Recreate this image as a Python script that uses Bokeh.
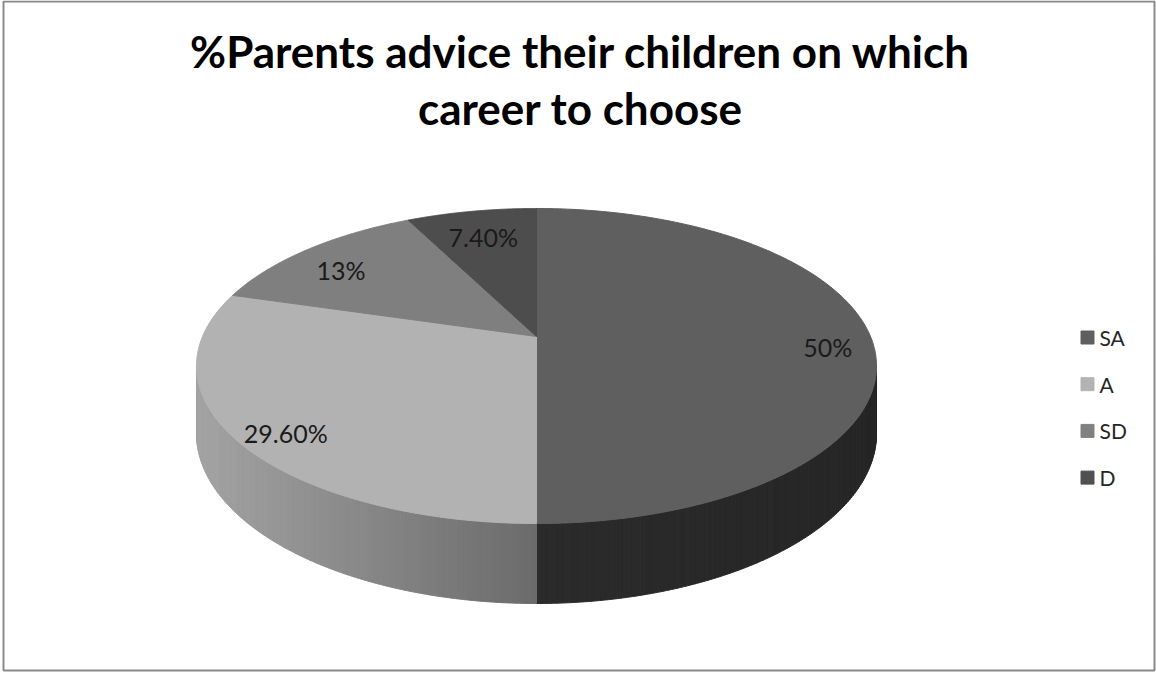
import numpy as np
from bokeh.plotting import figure
from bokeh.models import Range1d
from bokeh.core.properties import value
from bokeh.embed import file_html
from bokeh.resources import INLINE

# ---- data ----
title_lines = ["%Parents advice their children on which", "career to choose"]
categories = ["SA", "A", "SD", "D"]
values = [50, 29.6, 13, 7.4]
value_labels = ["50%", "29.60%", "13%", "7.40%"]

# ---- styles ----
top_colors = ["#5f5f5f", "#b2b2b2", "#7f7f7f", "#4d4d4d"]
side_start = ["#262626", "#6b6b6b", "#5a5a5a", "#3a3a3a"]   # colour at first visible angle (clockwise)
side_end = ["#2b2b2b", "#a3a3a3", "#8a8a8a", "#444444"]     # colour at last visible angle
legend_colors = ["#5f5f5f", "#b3b3b3", "#808080", "#505050"]

W, H = 1156, 673
CX, CY = 536, 336          # projected pie centre (apex)
AX, BY, PC = 334, 152, -0.1873   # horizontal / vertical scale, perspective factor
DEPTH = 65

FONT = "Lato"


def proj(psi, r=1.0):
    X = r * np.sin(psi)
    Y = -r * np.cos(psi)
    d = 1 + PC * Y
    return CX + AX * X / d, CY + BY * Y / d, DEPTH / d


def hex2rgb(h):
    h = h.lstrip("#")
    return np.array([int(h[i:i + 2], 16) for i in (0, 2, 4)], dtype=float)


def mix(c1, c2, t):
    c = hex2rgb(c1) * (1 - t) + hex2rgb(c2) * t
    return "#%02x%02x%02x" % tuple(int(round(v)) for v in c)


p = figure(width=W, height=H, x_range=Range1d(0, W), y_range=Range1d(H, 0),
           min_border=0, toolbar_location=None, output_backend="svg")
p.axis.visible = False
p.grid.visible = False
p.outline_line_color = None
p.background_fill_color = "white"
p.border_fill_color = "white"

# frame
p.quad(left=3, right=1154, top=1, bottom=670, fill_color=None,
       line_color="#8a8a8a", line_width=2)

total = float(sum(values))
cum = np.concatenate([[0.0], np.cumsum(values)]) / total * 2 * np.pi
psi_r = np.arccos(PC)             # right silhouette
psi_l = 2 * np.pi - psi_r         # left silhouette

# ---- side walls (with gradient strips) ----
sx_list, sy_list, scol = [], [], []
for i in range(len(values)):
    a0, a1 = max(cum[i], psi_r), min(cum[i + 1], psi_l)
    if a1 <= a0:
        continue
    n = max(2, int(np.degrees(a1 - a0) / 0.7))
    angs = np.linspace(a0, a1, n + 1)
    x0s, _, _ = proj(angs[0])
    x1s, _, _ = proj(angs[-1])
    for k in range(n):
        ps = np.linspace(angs[k], angs[k + 1], 4)
        x, y, d = proj(ps)
        xs = list(x) + list(x[::-1])
        ys = list(y) + list((y + d)[::-1])
        xm = proj((angs[k] + angs[k + 1]) / 2)[0]
        t = (xm - x0s) / (x1s - x0s) if x1s != x0s else 0
        col = mix(side_start[i], side_end[i], min(max(t, 0), 1))
        sx_list.append(xs)
        sy_list.append(ys)
        scol.append(col)
p.patches(sx_list, sy_list, fill_color=scol, line_color=scol, line_width=1)

# ---- top faces ----
tx, ty = [], []
for i in range(len(values)):
    angs = np.linspace(cum[i], cum[i + 1], 200)
    x, y, _ = proj(angs)
    tx.append([CX] + list(x))
    ty.append([CY] + list(y))
p.patches(tx, ty, fill_color=top_colors, line_color=top_colors, line_width=1)

# ---- data labels ----
mids = (cum[:-1] + cum[1:]) / 2
lx, ly, _ = proj(mids, 0.86)
p.text(x=list(lx + 4), y=list(ly + 10), text=value_labels, text_font=value(FONT),
       text_font_size="25px", text_color="#1a1a1a", text_align="center",
       text_baseline="middle")

# ---- title ----
p.text(x=[580, 580], y=[50, 107], text=title_lines, text_font=value(FONT),
       text_font_style="bold", text_font_size="44px", text_color="#000000",
       text_align="center", text_baseline="middle")

# ---- legend ----
ly0, lstep = 337, 46.7
leg_y = [ly0 + k * lstep for k in range(len(categories))]
p.scatter(x=[1087] * len(categories), y=leg_y, marker="square", size=13,
          fill_color=legend_colors, line_color=legend_colors)
p.text(x=[1099] * len(categories), y=leg_y, text=categories, text_font=value(FONT),
       text_font_size="21px", text_color="#262626", text_align="left",
       text_baseline="middle")

open("out.html", "w").write(file_html(p, INLINE))
